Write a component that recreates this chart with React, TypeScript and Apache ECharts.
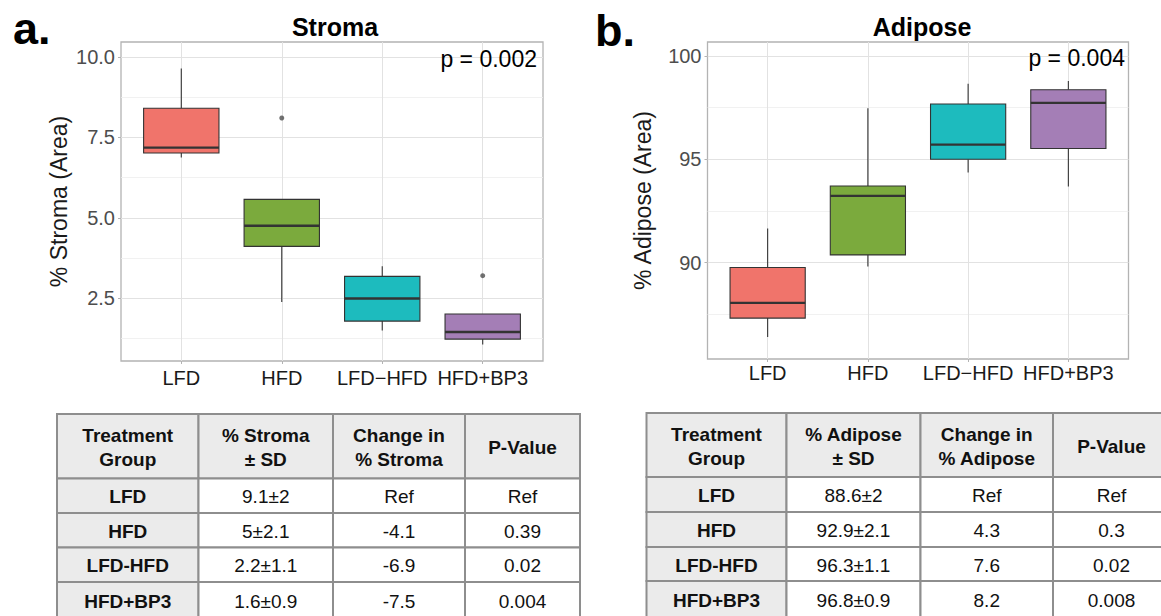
import React, { useEffect, useRef } from "react";
import * as echarts from "echarts";

// ---------- data ----------
const categories = ["LFD", "HFD", "LFD\u2212HFD", "HFD+BP3"];
const boxColors = ["#F0746B", "#7BAA3D", "#1DBBBE", "#A47EB6"];

// Stroma box statistics
const stromaMin = [6.87, 2.38, 1.5, 1.06];
const stromaQ1 = [7.01, 4.11, 1.79, 1.23];
const stromaMedian = [7.18, 4.75, 2.49, 1.45];
const stromaQ3 = [8.4, 5.57, 3.18, 2.01];
const stromaMax = [9.64, 5.57, 3.49, 2.01];
const stromaOutlierGroup = [2, 4];
const stromaOutlierValue = [8.1, 3.2];
const stromaTicks = [2.5, 5, 7.5, 10];
const stromaMinorTicks = [1.25, 3.75, 6.25, 8.75];

// Adipose box statistics
const adiposeMin = [86.39, 89.81, 94.36, 93.68];
const adiposeQ1 = [87.31, 90.37, 95.0, 95.52];
const adiposeMedian = [88.05, 93.23, 95.71, 97.73];
const adiposeQ3 = [89.76, 93.71, 97.68, 98.37];
const adiposeMax = [91.65, 97.47, 98.66, 98.79];
const adiposeTicks = [90, 95, 100];
const adiposeMinorTicks = [87.5, 92.5, 97.5];

// Tables
const tableGroups = ["LFD", "HFD", "LFD-HFD", "HFD+BP3"];
const stromaHeaders = ["Treatment\nGroup", "% Stroma\n\u00b1 SD", "Change in\n% Stroma", "P-Value"];
const stromaMeanSD = ["9.1\u00b12", "5\u00b12.1", "2.2\u00b11.1", "1.6\u00b10.9"];
const stromaChange = ["Ref", "-4.1", "-6.9", "-7.5"];
const stromaPValue = ["Ref", "0.39", "0.02", "0.004"];
const adiposeHeaders = ["Treatment\nGroup", "% Adipose\n\u00b1 SD", "Change in\n% Adipose", "P-Value"];
const adiposeMeanSD = ["88.6\u00b12", "92.9\u00b12.1", "96.3\u00b11.1", "96.8\u00b10.9"];
const adiposeChange = ["Ref", "4.3", "7.6", "8.2"];
const adiposePValue = ["Ref", "0.3", "0.02", "0.008"];

const FONT = "'Liberation Sans', Arial, Helvetica, sans-serif";

function boxData(mn: number[], q1: number[], md: number[], q3: number[], mx: number[]) {
  return mn.map((_, i) => [i + 1, mn[i], q1[i], md[i], q3[i], mx[i]]);
}

function renderBox(params: any, api: any) {
  const x = api.value(0);
  const lo = api.coord([x, api.value(1)]);
  const q1 = api.coord([x, api.value(2)]);
  const md = api.coord([x, api.value(3)]);
  const q3 = api.coord([x, api.value(4)]);
  const hi = api.coord([x, api.value(5)]);
  const w = api.size([0.75, 0])[0];
  const cx = lo[0];
  const stroke = "#333333";
  return {
    type: "group",
    children: [
      { type: "line", shape: { x1: cx, y1: hi[1], x2: cx, y2: q3[1] }, style: { stroke, lineWidth: 1.1 } },
      { type: "line", shape: { x1: cx, y1: q1[1], x2: cx, y2: lo[1] }, style: { stroke, lineWidth: 1.1 } },
      {
        type: "rect",
        shape: { x: cx - w / 2, y: q3[1], width: w, height: q1[1] - q3[1] },
        style: { fill: boxColors[params.dataIndex], stroke, lineWidth: 1.1 },
      },
      { type: "line", shape: { x1: cx - w / 2, y1: md[1], x2: cx + w / 2, y2: md[1] }, style: { stroke, lineWidth: 2.4 } },
    ],
  };
}

function buildTable(cols: number[], rows: number[], headers: string[], c1: string[], c2: string[], c3: string[]) {
  const els: any[] = [];
  const body = [headers, ...tableGroups.map((g, i) => [g, c1[i], c2[i], c3[i]])];
  for (let r = 0; r < body.length; r++) {
    for (let c = 0; c < 4; c++) {
      const x = cols[c];
      const y = rows[r];
      const w = cols[c + 1] - cols[c];
      const h = rows[r + 1] - rows[r];
      const grey = r === 0 || c === 0;
      els.push({
        type: "rect",
        shape: { x, y, width: w, height: h },
        style: { fill: grey ? "#EBEBEB" : "#FFFFFF", stroke: "#8E8E8E", lineWidth: 2 },
        z: 1,
      });
      els.push({
        type: "text",
        x: x + w / 2,
        y: y + h / 2 + 1,
        z: 2,
        style: {
          text: body[r][c],
          fontFamily: FONT,
          fontSize: 19,
          fontWeight: grey ? "bold" : "normal",
          lineHeight: 24,
          fill: "#111111",
          textAlign: "center",
          textVerticalAlign: "middle",
        },
      });
    }
  }
  return els;
}

function xAxisCfg(gridIndex: number, margin: number) {
  return {
    type: "value",
    gridIndex,
    min: 0.4,
    max: 4.6,
    axisLine: { show: false },
    axisTick: { show: true, customValues: [1, 2, 3, 4], length: 3, lineStyle: { color: "#B3B3B3" } },
    axisLabel: {
      customValues: [1, 2, 3, 4],
      formatter: (v: number) => categories[Math.round(v) - 1],
      fontSize: 20,
      fontFamily: FONT,
      color: "#1A1A1A",
      margin,
    },
    splitLine: { show: true, lineStyle: { color: "#E2E2E2", width: 1 } },
  };
}

function yAxisCfg(gridIndex: number, min: number, max: number, ticks: number[], fmt: (v: number) => string, name: string, nameGap: number) {
  return {
    type: "value",
    gridIndex,
    min,
    max,
    position: "left",
    axisLine: { show: false },
    axisTick: { show: true, customValues: ticks, length: 3, lineStyle: { color: "#B3B3B3" } },
    axisLabel: { customValues: ticks, formatter: fmt, fontSize: 20, fontFamily: FONT, color: "#4D4D4D", margin: 6 },
    splitLine: { show: true, lineStyle: { color: "#E2E2E2", width: 1 } },
    name,
    nameLocation: "middle",
    nameGap,
    nameTextStyle: { fontSize: 23, fontFamily: FONT, color: "#1A1A1A" },
  };
}

function minorAxisCfg(gridIndex: number, min: number, max: number, ticks: number[]) {
  return {
    type: "value",
    gridIndex,
    min,
    max,
    position: "left",
    axisLine: { show: false },
    axisTick: { show: false, customValues: ticks },
    axisLabel: { show: false, customValues: ticks },
    splitLine: { show: true, lineStyle: { color: "#EEEEEE", width: 0.8 } },
  };
}

export default function App() {
  const ref = useRef<HTMLDivElement>(null);
  useEffect(() => {
    if (!ref.current) return;
    const chart = echarts.init(ref.current, null, { renderer: "svg" });
    const graphics: any[] = [
      { type: "text", x: 13, y: 28, style: { text: "a.", fontFamily: FONT, fontSize: 45, lineHeight: 42, fontWeight: "bold", fill: "#000", textAlign: "left", textVerticalAlign: "middle" } },
      { type: "text", x: 595, y: 30, style: { text: "b.", fontFamily: FONT, fontSize: 45, lineHeight: 42, fontWeight: "bold", fill: "#000", textAlign: "left", textVerticalAlign: "middle" } },
      { type: "text", x: 335, y: 27, style: { text: "Stroma", fontFamily: FONT, fontSize: 25, fontWeight: "bold", fill: "#000", textAlign: "center", textVerticalAlign: "middle" } },
      { type: "text", x: 922, y: 27, style: { text: "Adipose", fontFamily: FONT, fontSize: 25, fontWeight: "bold", fill: "#000", textAlign: "center", textVerticalAlign: "middle" } },
      { type: "text", x: 537, y: 59, z: 10, style: { text: "p = 0.002", fontFamily: FONT, fontSize: 23, fill: "#000", textAlign: "right", textVerticalAlign: "middle" } },
      { type: "text", x: 1125, y: 58, z: 10, style: { text: "p = 0.004", fontFamily: FONT, fontSize: 23, fill: "#000", textAlign: "right", textVerticalAlign: "middle" } },
      ...buildTable([57, 198.5, 333, 465, 580], [414, 478.5, 513, 547.5, 582, 618], stromaHeaders, stromaMeanSD, stromaChange, stromaPValue),
      ...buildTable([646.5, 786.5, 920.5, 1053, 1170], [413, 477, 512, 547, 581, 618], adiposeHeaders, adiposeMeanSD, adiposeChange, adiposePValue),
    ];
    chart.setOption({
      animation: false,
      backgroundColor: "#FFFFFF",
      grid: [
        { left: 121, top: 42, width: 422, height: 319, show: true, borderColor: "#B3B3B3", borderWidth: 1.3, backgroundColor: "transparent" },
        { left: 707.5, top: 42, width: 421, height: 317, show: true, borderColor: "#B3B3B3", borderWidth: 1.3, backgroundColor: "transparent" },
      ],
      xAxis: [xAxisCfg(0, 7), xAxisCfg(1, 4)],
      yAxis: [
        yAxisCfg(0, 0.55, 10.46, stromaTicks, (v) => v.toFixed(1), "% Stroma (Area)", 51),
        yAxisCfg(1, 85.33, 100.68, adiposeTicks, (v) => String(Math.round(v)), "% Adipose (Area)", 53),
        minorAxisCfg(0, 0.55, 10.46, stromaMinorTicks),
        minorAxisCfg(1, 85.33, 100.68, adiposeMinorTicks),
      ],
      series: [
        {
          type: "custom",
          xAxisIndex: 0,
          yAxisIndex: 0,
          renderItem: renderBox,
          encode: { x: 0, y: [1, 2, 3, 4, 5] },
          data: boxData(stromaMin, stromaQ1, stromaMedian, stromaQ3, stromaMax),
          z: 3,
        },
        {
          type: "scatter",
          xAxisIndex: 0,
          yAxisIndex: 0,
          symbolSize: 5,
          itemStyle: { color: "#4D4D4D" },
          data: stromaOutlierGroup.map((g, i) => [g, stromaOutlierValue[i]]),
          z: 4,
        },
        {
          type: "custom",
          xAxisIndex: 1,
          yAxisIndex: 1,
          renderItem: renderBox,
          encode: { x: 0, y: [1, 2, 3, 4, 5] },
          data: boxData(adiposeMin, adiposeQ1, adiposeMedian, adiposeQ3, adiposeMax),
          z: 3,
        },
      ],
      graphic: graphics,
    });
    return () => chart.dispose();
  }, []);
  return <div ref={ref} style={{ position: "fixed", left: 0, top: 0, width: 1161, height: 616 }} />;
}
